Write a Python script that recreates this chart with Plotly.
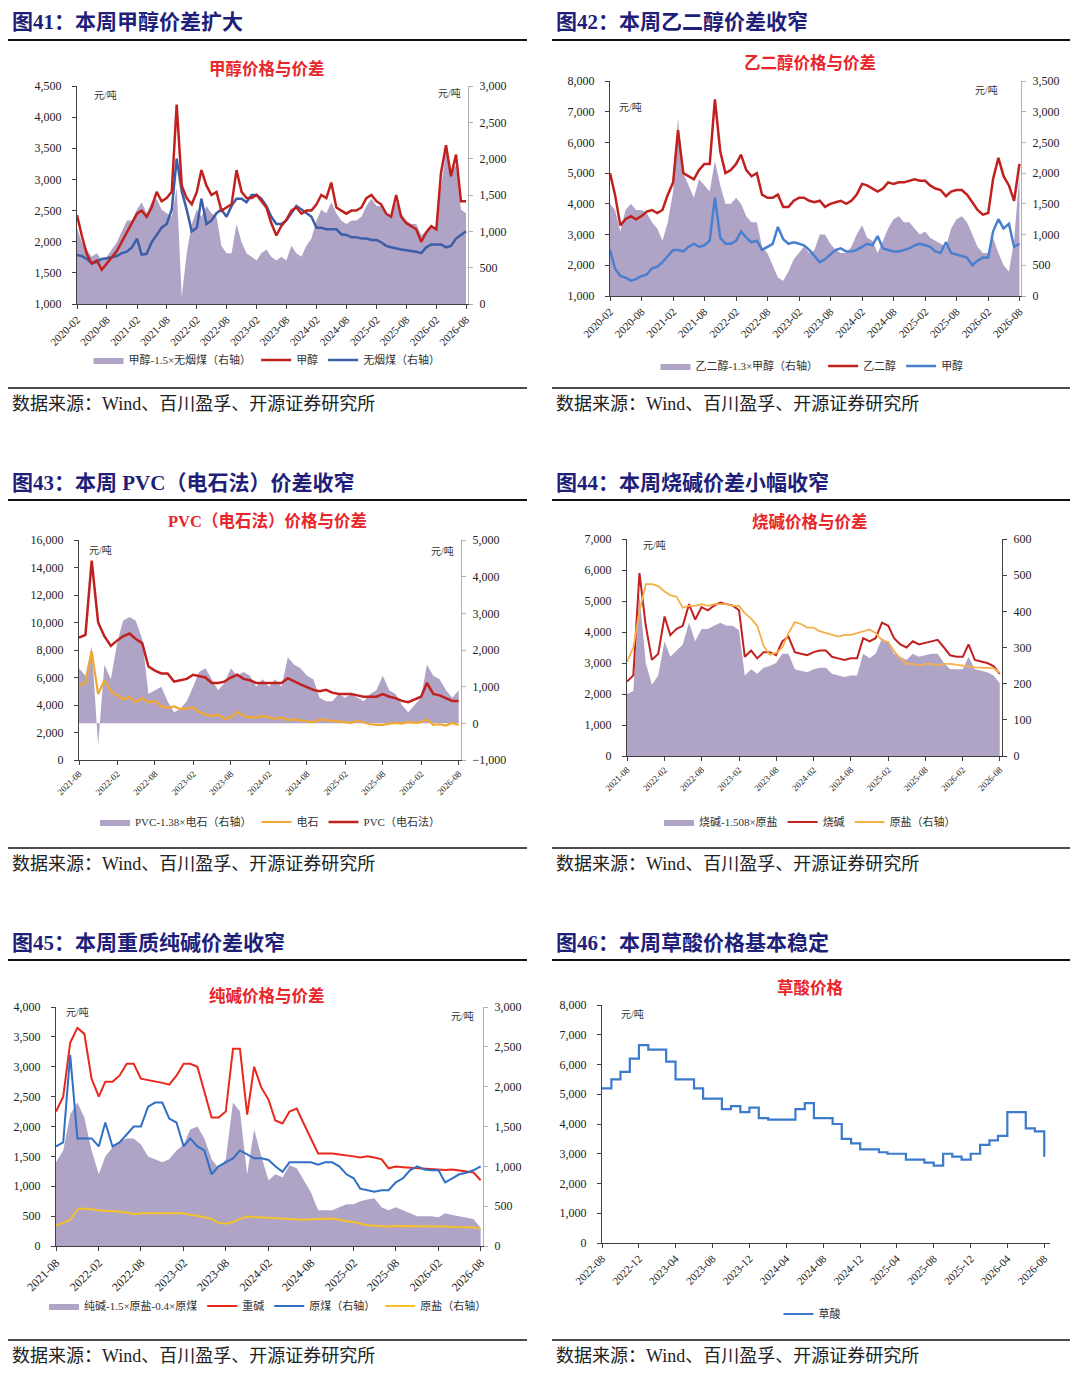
import pandas as pd
import plotly.graph_objects as go

W, H = 1080, 1379

# x categories (monthly)
months_20 = pd.date_range("2020-02-01", "2026-08-01", freq="MS")
months_21 = pd.date_range("2021-08-01", "2026-08-01", freq="MS")
months_22 = pd.date_range("2022-08-01", "2026-08-01", freq="MS")

# 图41 甲醇
meoh_41 = [2430, 2100, 1800, 1650, 1700, 1550, 1650, 1750, 1850, 2000, 2150,
           2300, 2450, 2500, 2400, 2550, 2800, 2650, 2700, 2800, 4200, 2900, 2700,
           2600, 2800, 3150, 2900, 2750, 2800, 2500, 2550, 2600, 3150, 2800, 2700,
           2700, 2750, 2650, 2550, 2300, 2100, 2250, 2350, 2500, 2550, 2450, 2500,
           2500, 2600, 2750, 2700, 2950, 2550, 2500, 2450, 2500, 2500, 2550, 2700,
           2750, 2650, 2600, 2450, 2400, 2750, 2400, 2300, 2250, 2200, 2000, 2150,
           2250, 2200, 3100, 3550, 3050, 3400, 2650, 2650]
coal_41 = [675, 660, 620, 560, 580, 620, 630, 640, 660, 700, 720,
           780, 900, 680, 690, 850, 950, 1050, 1100, 1300, 2000, 1550, 1300,
           1000, 1050, 1450, 1100, 1150, 1250, 1300, 1200, 1350, 1450, 1450, 1400,
           1500, 1500, 1450, 1350, 1200, 1100, 1100, 1150, 1250, 1350, 1300, 1250,
           1200, 1050, 1050, 1030, 1030, 1030, 960, 950, 920, 920, 900, 900,
           880, 880, 850, 800, 780, 760, 750, 740, 730, 720, 700, 780,
           820, 820, 820, 780, 800, 900, 950, 1000]
spread_41 = [1050, 850, 750, 650, 700, 600, 650, 750, 850, 1000, 1150,
             1150, 1300, 1400, 1250, 1400, 1450, 1300, 1250, 1200, 1600, 100, 700,
             1100, 1300, 1200, 1350, 1250, 1200, 800, 700, 700, 1100, 850, 700,
             650, 600, 700, 750, 650, 600, 650, 600, 800, 700, 650, 800,
             900, 1150, 1300, 1250, 1400, 1250, 1150, 1100, 1150, 1150, 1200, 1350,
             1450, 1350, 1350, 1250, 1200, 1400, 1250, 1150, 1100, 1100, 950, 1000,
             1050, 1050, 1600, 2100, 1850, 1900, 1300, 1250]

# 图42 乙二醇
meg_42 = [5000, 4300, 3300, 3500, 3600, 3500, 3600, 3750, 3800, 3700, 3800,
          4300, 4700, 6400, 5000, 4900, 4800, 5100, 5300, 5300, 7400, 5700, 5000,
          5100, 5300, 5600, 5100, 4900, 5000, 4300, 4200, 4200, 4300, 3900, 3900,
          4100, 4200, 4200, 4100, 4050, 4100, 3900, 4000, 4050, 4100, 4000, 4100,
          4300, 4650, 4600, 4500, 4400, 4500, 4700, 4650, 4700, 4700, 4750, 4800,
          4750, 4750, 4600, 4500, 4450, 4250, 4400, 4450, 4450, 4300, 4050, 3800,
          3650, 3700, 4800, 5500, 4900, 4600, 4100, 5300]
meoh_42 = [2500, 1900, 1650, 1600, 1500, 1550, 1650, 1700, 1900, 1950, 2100,
           2300, 2500, 2500, 2450, 2600, 2700, 2600, 2650, 2800, 4200, 2900, 2700,
           2700, 2800, 3100, 2900, 2750, 2800, 2500, 2600, 2700, 3250, 2850, 2700,
           2750, 2700, 2650, 2500, 2300, 2100, 2200, 2350, 2500, 2550, 2450, 2450,
           2500, 2600, 2700, 2650, 2950, 2550, 2500, 2450, 2450, 2500, 2550, 2650,
           2700, 2650, 2600, 2450, 2400, 2750, 2400, 2350, 2300, 2250, 2000, 2150,
           2250, 2250, 3100, 3500, 3200, 3350, 2600, 2700]
spread_42 = [1500, 1400, 1050, 1400, 1500, 1400, 1400, 1350, 1200, 1100, 900,
             1200, 1700, 2900, 2000, 1800, 1600, 1900, 1800, 1700, 2200, 1800, 1500,
             1500, 1600, 1500, 1300, 1200, 1200, 800, 700, 500, 300, 250, 400,
             600, 700, 800, 700, 750, 1000, 1000, 850, 750, 700, 700, 800,
             1000, 1150, 950, 900, 700, 900, 1100, 1250, 1300, 1200, 1200, 1100,
             1000, 1050, 950, 900, 850, 800, 1100, 1250, 1300, 1200, 1000, 800,
             700, 700, 950, 700, 500, 400, 900, 2000]

# 图43 PVC
pvc_43 = [8900, 9100, 14500, 10000, 9000,
          8300, 8700, 9000, 9200, 8800, 8500, 6800, 6500, 6300, 6300, 5700, 5800,
          5900, 6200, 6100, 6000, 5600, 5600, 5700, 6000, 6200, 5900, 5800, 5600,
          5600, 5600, 5650, 5600, 5950, 5700, 5500, 5300, 5100, 5000, 5100, 4900,
          4800, 4800, 4800, 4700, 4600, 4600, 4600, 4800, 4600, 4500, 4300, 4200,
          4400, 4600, 5600, 4800, 4700, 4500, 4300, 4300]
carbide_43 = [5400, 5600, 7900, 4800, 5800,
              5000, 4700, 4400, 4600, 4200, 4500, 4200, 4300, 3900, 3800, 3900, 3700,
              3750, 3800, 3500, 3300, 3200, 3300, 3000, 3100, 3500, 3200, 3100, 3100,
              3200, 3100, 3000, 3100, 2900, 2950, 2850, 2800, 2750, 2950, 2900, 2850,
              2800, 2800, 2700, 2850, 2700, 2600, 2550, 2550, 2650, 2700, 2650, 2750,
              2700, 2750, 2950, 2550, 2600, 2500, 2700, 2550]
spread_43 = [1500, 1300, 2100, -600, 1600,
             1200, 2200, 2800, 2900, 2800, 2300, 800, 900, 1000, 600, 300, 400,
             600, 1000, 1400, 1500, 1200, 900, 1100, 1500, 1300, 1400, 1300, 1000,
             1200, 1000, 1200, 1000, 1800, 1600, 1500, 1300, 1200, 700, 600, 600,
             800, 700, 800, 700, 600, 800, 900, 1300, 900, 800, 500, 300,
             500, 700, 1600, 1300, 1200, 900, 700, 900]

# 图44 烧碱
soda_44 = [2400, 2600, 5900, 4200, 3100,
           3300, 4500, 3900, 4100, 4200, 4900, 4400, 4800, 4700, 4850, 4950, 4900,
           4850, 4700, 3200, 3400, 3150, 3350, 3350, 3250, 3700, 3850, 3350, 3300,
           3250, 3350, 3400, 3400, 3200, 3150, 3100, 3150, 3150, 3800, 3700, 3800,
           4300, 4200, 3800, 3600, 3500, 3700, 3600, 3650, 3700, 3750, 3500, 3250,
           3200, 3200, 3600, 3100, 3050, 3000, 2900, 2650]
salt_44 = [260, 300, 400, 475, 475,
           470, 455, 445, 440, 410, 415, 415, 420, 415, 420, 420, 420,
           415, 415, 395, 380, 360, 305, 280, 285, 300, 340, 370, 365,
           355, 355, 345, 340, 335, 330, 335, 335, 340, 345, 350, 340,
           320, 315, 290, 270, 255, 255, 250, 255, 255, 250, 255, 255,
           253, 250, 248, 245, 245, 243, 243, 230]
spread_44 = [2000, 2100, 5200, 3000, 2300,
             2600, 3700, 3200, 3400, 3600, 4300, 3700, 4100, 4100, 4200, 4300, 4200,
             4200, 4050, 2600, 2800, 2650, 2850, 2900, 3000, 3300, 3300, 2800, 2750,
             2700, 2800, 2850, 2850, 2650, 2600, 2550, 2600, 2600, 3300, 3150, 3300,
             3800, 3650, 3300, 3200, 3100, 3300, 3200, 3250, 3300, 3300, 3000, 2800,
             2800, 2800, 3200, 2800, 2750, 2700, 2600, 2350]

# 图45 纯碱
ash_45 = [2250, 2500, 3400, 3650, 3550,
          2800, 2500, 2750, 2750, 2850, 3050, 3050, 2800, 2780, 2750, 2730, 2700,
          2850, 3050, 3050, 3000, 2600, 2150, 2150, 2250, 3300, 3300, 2200, 3000,
          2650, 2450, 2100, 2050, 2250, 2300, 2050, 1800, 1550, 1550, 1550, 1530,
          1520, 1500, 1480, 1500, 1480, 1450, 1300, 1330, 1320, 1310, 1300, 1290,
          1280, 1270, 1270, 1280, 1260, 1240, 1230, 1100]
rawcoal_45 = [1250, 1300, 2400, 1350, 1350,
              1350, 1250, 1550, 1250, 1300, 1400, 1500, 1500, 1750, 1800, 1800, 1600,
              1550, 1250, 1350, 1250, 1200, 900, 1000, 1050, 1100, 1200, 1150, 1100,
              1100, 1080, 1000, 930, 1050, 1050, 1050, 1050, 1020, 1050, 1050, 1000,
              900, 850, 720, 700, 680, 700, 700, 800, 850, 950, 1000, 960,
              950, 950, 800, 850, 900, 920, 950, 1000]
salt_45 = [260, 290, 330, 460, 470,
           460, 450, 440, 440, 430, 420, 400, 410, 410, 410, 410, 415,
           410, 410, 390, 380, 360, 340, 290, 280, 300, 340, 370, 365,
           360, 355, 350, 345, 340, 330, 330, 335, 340, 345, 345, 330,
           310, 300, 280, 260, 255, 250, 245, 250, 250, 245, 248, 250,
           248, 245, 245, 240, 240, 238, 235, 215]
spread_45 = [1400, 1600, 2200, 2400, 2150,
             1600, 1200, 1500, 1650, 1750, 1800, 1800, 1700, 1500, 1450, 1400, 1450,
             1600, 1700, 1950, 2000, 1800, 1450, 1300, 1450, 2400, 2250, 1200, 1950,
             1500, 1100, 1200, 1150, 1350, 1300, 1100, 900, 600, 600, 600, 650,
             700, 700, 750, 780, 800, 650, 600, 650, 600, 550, 500, 500,
             500, 480, 550, 520, 500, 480, 450, 300]

# 图46 草酸
oxalic_46 = [5200, 5500, 5750, 6200, 6650,
             6500, 6500, 6100, 5500, 5500, 5200, 4850, 4850, 4500, 4600, 4400, 4550,
             4200, 4150, 4150, 4150, 4500, 4700, 4200, 4200, 4000, 3500, 3350, 3150,
             3150, 3050, 3000, 3000, 2800, 2800, 2700, 2600, 3000, 2900, 2800, 3000,
             3300, 3450, 3600, 4400, 4400, 3850, 3750, 2900]

PURPLE = "#b0a4c6"
RED = "#c0211f"
FONT = "Liberation Serif, Noto Sans CJK SC, serif"

fig = go.Figure()


def area(x, y, name, xa, ya, lg):
    fig.add_trace(go.Scatter(x=x, y=y, name=name, mode="lines", fill="tozeroy",
                             fillcolor=PURPLE, line=dict(width=0, color=PURPLE),
                             xaxis=xa, yaxis=ya, legend=lg))


def line(x, y, name, color, width, xa, ya, lg, shape="linear"):
    fig.add_trace(go.Scatter(x=x, y=y, name=name, mode="lines",
                             line=dict(color=color, width=width, shape=shape),
                             xaxis=xa, yaxis=ya, legend=lg))


# traces (legend order follows trace order)
area(months_20, spread_41, "甲醇-1.5×无烟煤（右轴）", "x", "y", "legend")
line(months_20, meoh_41, "甲醇", RED, 2.5, "x", "y2", "legend")
line(months_20, coal_41, "无烟煤（右轴）", "#3c5ea8", 2.5, "x", "y", "legend")

area(months_20, spread_42, "乙二醇-1.3×甲醇（右轴）", "x2", "y3", "legend2")
line(months_20, meg_42, "乙二醇", RED, 2.5, "x2", "y4", "legend2")
line(months_20, meoh_42, "甲醇", "#4a7fd0", 2.5, "x2", "y4", "legend2")

area(months_21, spread_43, "PVC-1.38×电石（右轴）", "x3", "y5", "legend3")
line(months_21, carbide_43, "电石", "#f0a830", 2.2, "x3", "y6", "legend3")
line(months_21, pvc_43, "PVC（电石法）", RED, 2.5, "x3", "y6", "legend3")

area(months_21, spread_44, "烧碱-1.508×原盐", "x4", "y7", "legend4")
line(months_21, soda_44, "烧碱", RED, 2, "x4", "y7", "legend4")
line(months_21, salt_44, "原盐（右轴）", "#f5b04a", 1.8, "x4", "y8", "legend4")

area(months_21, spread_45, "纯碱-1.5×原盐-0.4×原煤", "x5", "y9", "legend5")
line(months_21, ash_45, "重碱", "#e8291c", 2, "x5", "y9", "legend5")
line(months_21, rawcoal_45, "原煤（右轴）", "#2f6fc4", 2, "x5", "y10", "legend5")
line(months_21, salt_45, "原盐（右轴）", "#f5c02a", 2, "x5", "y10", "legend5")

line(months_22, oxalic_46, "草酸", "#3c7acb", 2.2, "x6", "y11", "legend6", shape="hv")


def xaxis(left, right, anchor, start, end, dtick, size):
    return dict(domain=[left / W, right / W], anchor=anchor, type="date",
                range=[start, end], tick0=start, dtick=dtick, tickformat="%Y-%m",
                tickangle=-45, showline=True, linecolor="#404040", linewidth=1,
                ticks="outside", ticklen=4, tickcolor="#404040", showgrid=False,
                zeroline=False, automargin=False, tickfont=dict(size=size, color="#222"))


def yaxis(top, bottom, rng, dtick, side, anchor, color="#404040", overlaying=None):
    d = dict(domain=[1 - bottom / H, 1 - top / H], range=rng, tick0=rng[0], dtick=dtick,
             side=side, anchor=anchor, tickformat=",", showline=True, linecolor=color,
             linewidth=1, ticks="outside", ticklen=4, tickcolor=color, showgrid=False,
             zeroline=False, automargin=False, tickfont=dict(size=12, color="#222"),
             ticklabelstandoff=8 if side == "left" else 4)
    if overlaying:
        d["overlaying"] = overlaying
    return d


GREY = "#b0b0b0"
axes = dict(
    xaxis=xaxis(77, 468, "y", "2020-02-01", "2026-08-13", "M6", 11),
    yaxis=yaxis(86, 304, [0, 3000], 500, "right", "x", GREY),
    yaxis2=yaxis(86, 304, [1000, 4500], 500, "left", "x", overlaying="y"),
    xaxis2=xaxis(610, 1021, "y3", "2020-02-01", "2026-08-10", "M6", 11),
    yaxis3=yaxis(81, 296, [0, 3500], 500, "right", "x2", GREY),
    yaxis4=yaxis(81, 296, [1000, 8000], 1000, "left", "x2", overlaying="y3"),
    xaxis3=xaxis(79, 461, "y5", "2021-08-01", "2026-08-12", "M6", 9),
    yaxis5=yaxis(540, 760, [-1000, 5000], 1000, "right", "x3", GREY),
    yaxis6=yaxis(540, 760, [0, 16000], 2000, "left", "x3", overlaying="y5"),
    xaxis4=xaxis(627, 1002, "y7", "2021-08-01", "2026-08-12", "M6", 9),
    yaxis7=yaxis(539, 756, [0, 7000], 1000, "left", "x4"),
    yaxis8=yaxis(539, 756, [0, 600], 100, "right", "x4", overlaying="y7"),
    xaxis5=xaxis(56, 483, "y9", "2021-08-01", "2026-08-11", "M6", 12),
    yaxis9=yaxis(1007, 1246, [0, 4000], 500, "left", "x5"),
    yaxis10=yaxis(1007, 1246, [0, 3000], 500, "right", "x5", GREY, overlaying="y9"),
    xaxis6=xaxis(602, 1050, "y11", "2022-08-01", "2026-08-20", "M4", 11),
    yaxis11=yaxis(1005, 1243, [0, 8000], 1000, "left", "x6"),
)


def legend(cx, cy):
    return dict(orientation="h", x=cx / W, y=1 - cy / H, xanchor="center", yanchor="middle",
                xref="paper", yref="paper", bgcolor="rgba(0,0,0,0)", itemwidth=30,
                font=dict(size=11, color="#333", family=FONT), traceorder="normal")


legends = dict(legend=legend(267, 360), legend2=legend(812, 366), legend3=legend(270, 822),
               legend4=legend(810, 822), legend5=legend(268, 1306), legend6=legend(812, 1314))

annotations = []
shapes = []


def text(x, y, s, size, color, anchor="left", bold=False):
    annotations.append(dict(x=x / W, y=1 - y / H, xref="paper", yref="paper",
                            text=f"<b>{s}</b>" if bold else s, showarrow=False,
                            xanchor=anchor, yanchor="middle",
                            font=dict(size=size, color=color, family=FONT)))


NAVY = "#1f1f7a"
TITLE_RED = "#e8262a"
panels = [
    # header, chart title, text x, rule x0, rule x1, header y, chart title pos, rule y top/bottom, source y
    ("图41：本周甲醇价差扩大", "甲醇价格与价差", 10, 8, 527, 22, (267, 69), 40, 388, 404),
    ("图42：本周乙二醇价差收窄", "乙二醇价格与价差", 554, 552, 1070, 22, (810, 63), 40, 388, 404),
    ("图43：本周 PVC（电石法）价差收窄", "PVC（电石法）价格与价差", 10, 8, 527, 483, (267, 521), 500, 848, 864),
    ("图44：本周烧碱价差小幅收窄", "烧碱价格与价差", 554, 552, 1070, 483, (810, 522), 500, 848, 864),
    ("图45：本周重质纯碱价差收窄", "纯碱价格与价差", 10, 8, 527, 943, (267, 996), 960, 1340, 1356),
    ("图46：本周草酸价格基本稳定", "草酸价格", 554, 552, 1070, 943, (810, 989), 960, 1340, 1356),
]
for head, sub, tx, r0, r1, hy, (sx, sy), ry0, ry1, srcy in panels:
    text(tx, hy, head, 21, NAVY, bold=True)
    text(sx, sy, sub, 16.5, TITLE_RED, anchor="center", bold=True)
    text(tx, srcy, "数据来源：Wind、百川盈孚、开源证券研究所", 18, "#222")
    for ry, wd in ((ry0, 2), (ry1, 1.5)):
        shapes.append(dict(type="line", xref="paper", yref="paper", x0=r0 / W, x1=r1 / W,
                           y0=1 - ry / H, y1=1 - ry / H, line=dict(color="#111", width=wd)))

# unit labels
for ux, uy in [(105, 95), (449, 93), (630, 107), (986, 90), (100, 550), (442, 551),
               (654, 545), (77, 1012), (462, 1016), (632, 1014)]:
    text(ux, uy, "元/吨", 10, "#333", anchor="center")

fig.update_layout(
    width=W, height=H, margin=dict(l=0, r=0, t=0, b=0, pad=0, autoexpand=False),
    paper_bgcolor="white", plot_bgcolor="white",
    font=dict(family=FONT, color="#222"),
    showlegend=True, annotations=annotations, shapes=shapes,
    **axes, **legends,
)

fig.write_html("out.html", config={"displayModeBar": False},
               post_script="document.body.style.margin='0';")
